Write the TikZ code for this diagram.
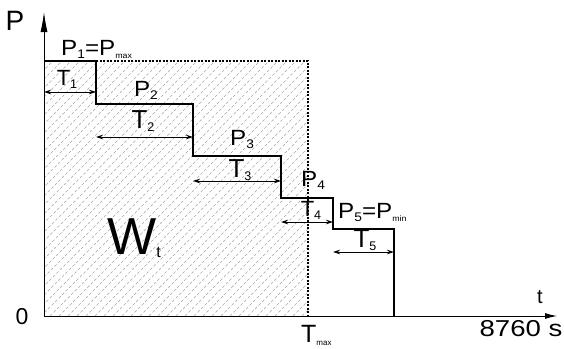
\documentclass[tikz,border=0pt]{standalone}
\usepackage{fontspec}
\setmainfont{Liberation Sans}
\usetikzlibrary{arrows.meta}
\tikzset{
  stepline/.style={line width=1.4pt, line join=miter},
  axisline/.style={line width=0.9pt},
  dimarrow/.style={line width=0.8pt, {Stealth[length=7pt,width=4.5pt]}-{Stealth[length=7pt,width=4.5pt]}},
  boundline/.style={line width=1.5pt, dash pattern=on 2pt off 1.5pt},
  hatchline/.style={gray!70, line width=0.4pt, dash pattern=on 3pt off 2pt},
  lbl/.style={inner sep=0pt, xscale=1.1, font=\fontsize{22}{24}\selectfont},
  tlbl/.style={inner sep=0pt, font=\fontsize{26}{28}\selectfont},
  plain/.style={inner sep=0pt},
}
\newcommand{\sbs}[1]{\raisebox{-3pt}{\fontsize{12.5}{12.5}\selectfont #1}}
\newcommand{\sbt}[1]{\raisebox{-3pt}{\fontsize{8}{8}\selectfont #1}}
\begin{document}
\begin{tikzpicture}[x=1pt,y=-1pt]
\useasboundingbox (0,0) rectangle (564,348);
% hatched area
\begin{scope}
\clip (44,61) rectangle (308,316);
\foreach \i in {-300,-291,...,300} {
  \draw[hatchline] (44+\i,316) -- (44+\i+260,56);
}
\end{scope}
% axes
\coordinate (O) at (44,316);
\coordinate (Ytop) at (44,12);
\coordinate (Xend) at (557,316);
\draw[axisline,-{Latex[length=20pt,width=7pt]}] (O) -- (Ytop);
\draw[axisline,-{Latex[length=12pt,width=6pt]}] (O) -- (Xend);
% steps
\coordinate (s0) at (44,61);
\coordinate (s1) at (96,61);
\coordinate (s2) at (96,104);
\coordinate (s3) at (193,104);
\coordinate (s4) at (193,156);
\coordinate (s5) at (281,156);
\coordinate (s6) at (281,198);
\coordinate (s7) at (333,198);
\coordinate (s8) at (333,229);
\coordinate (s9) at (394,229);
\coordinate (s10) at (394,316);
\draw[stepline] (s0) -- (s1) -- (s2) -- (s3) -- (s4) -- (s5) -- (s6) -- (s7) -- (s8) -- (s9) -- (s10);
% Tmax boundary
\coordinate (b1) at (308,61);
\coordinate (b2) at (308,316);
\draw[boundline] (s1) -- (b1) -- (b2);
% dimension arrows
\coordinate (a1l) at (44,92);  \coordinate (a1r) at (96,92);
\coordinate (a2l) at (96,137); \coordinate (a2r) at (193,137);
\coordinate (a3l) at (193,181); \coordinate (a3r) at (281,181);
\coordinate (a4l) at (281,222); \coordinate (a4r) at (333,222);
\coordinate (a5l) at (333,252); \coordinate (a5r) at (394,252);
\draw[dimarrow] (a1l) -- (a1r);
\draw[dimarrow] (a2l) -- (a2r);
\draw[dimarrow] (a3l) -- (a3r);
\draw[dimarrow] (a4l) -- (a4r);
\draw[dimarrow] (a5l) -- (a5r);
% labels
\node[plain, font=\fontsize{28}{30}\selectfont] (Plab) at (15,21) {P};
\node[plain, font=\fontsize{23}{25}\selectfont] (zero) at (22,317) {0};
\node[plain, font=\fontsize{20}{22}\selectfont] (tlab) at (540,297) {t};
\node[plain, xscale=1.2, font=\fontsize{23}{25}\selectfont] (xmax) at (521,329) {8760 s};
\node[plain, font=\fontsize{25}{27}\selectfont, anchor=west] (tmax) at (301,335) {T\sbt{max}};
\node[lbl, anchor=west] (p1) at (61,49) {P\sbs{1}=P\sbt{max}};
\node[lbl] (p2) at (146,90) {P\sbs{2}};
\node[lbl] (p3) at (242,139) {P\sbs{3}};
\node[lbl] (p4) at (313,180) {P\sbs{4}};
\node[lbl, anchor=west] (p5) at (338,212) {P\sbs{5}=P\sbt{min}};
\node[tlbl, font=\fontsize{22}{24}\selectfont] (t1) at (67,79) {T\sbs{1}};
\node[tlbl] (t2) at (143,121) {T\sbs{2}};
\node[tlbl] (t3) at (240,170) {T\sbs{3}};
\node[tlbl, font=\fontsize{22}{24}\selectfont] (t4) at (311,210) {T\sbs{4}};
\node[tlbl] (t5) at (365,240) {T\sbs{5}};
\node[plain, font=\fontsize{52}{54}\selectfont] (wt) at (134,238) {W\raisebox{-3pt}{\fontsize{16}{16}\selectfont t}};
\end{tikzpicture}
\end{document}
